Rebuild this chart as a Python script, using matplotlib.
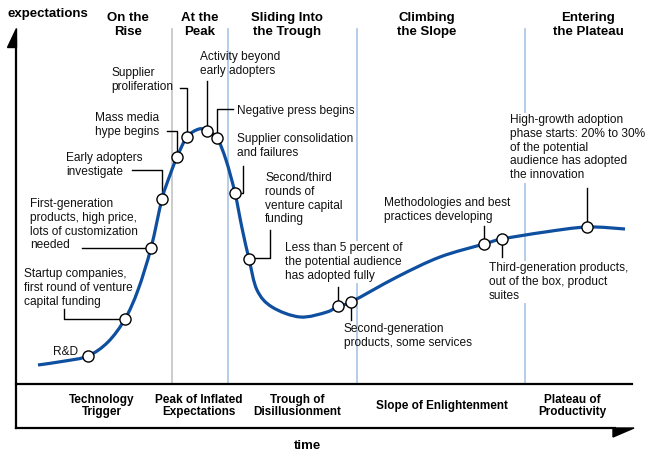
import matplotlib.pyplot as plt
import numpy as np
from matplotlib.path import Path
from matplotlib.patches import PathPatch, Polygon

plt.rcParams['font.family'] = ['Liberation Sans', 'DejaVu Sans']

# courbe du hype cycle (coordonnees, en pixels)
curve_x = [38, 65, 88, 108, 125, 138, 151, 162, 170, 177, 187, 199, 207, 217, 226, 235,
           242, 249, 257, 272, 300, 327, 338, 351, 397, 440, 484, 502, 545, 587, 625]
curve_y = [365, 361, 356, 342, 319, 290, 248, 199, 175, 157, 137, 129, 131, 138, 160, 193,
           228, 259, 290, 307, 317, 312, 306, 302, 277, 257, 244, 239, 232, 227, 229]

# jalons sur la courbe
milestone_x = [88, 125, 151, 162, 177, 187, 207, 217, 235, 249, 338, 351, 484, 502, 587]
milestone_y = [356, 319, 248, 199, 157, 137, 131, 138, 193, 259, 306, 302, 244, 239, 227]

milestone_labels = [
    "R&D",
    "Startup companies,\nfirst round of venture\ncapital funding",
    "First-generation\nproducts, high price,\nlots of customization\nneeded",
    "Early adopters\ninvestigate",
    "Mass media\nhype begins",
    "Supplier\nproliferation",
    "Activity beyond\nearly adopters",
    "Negative press begins",
    "Supplier consolidation\nand failures",
    "Second/third\nrounds of\nventure capital\nfunding",
    "Less than 5 percent of\nthe potential audience\nhas adopted fully",
    "Second-generation\nproducts, some services",
    "Methodologies and best\npractices developing",
    "Third-generation products,\nout of the box, product\nsuites",
    "High-growth adoption\nphase starts: 20% to 30%\nof the potential\naudience has adopted\nthe innovation",
]
# coin haut-gauche du texte
label_pos = [(53, 346), (24, 268), (30, 198), (66, 152), (95, 112), (111, 67), (200, 51),
             (237, 105), (237, 133), (265, 172), (285, 242), (344, 323), (384, 197),
             (489, 262), (510, 114)]
# traits de rappel (coudes)
leaders = [
    None,
    [(64, 309), (64, 319), (125, 319)],
    [(82, 248), (151, 248)],
    [(132, 170), (162, 170), (162, 199)],
    [(167, 131), (177, 131), (177, 157)],
    [(180, 88), (187, 88), (187, 137)],
    [(207, 81), (207, 131)],
    [(233, 109), (217, 109), (217, 138)],
    [(243, 166), (243, 193), (235, 193)],
    [(270, 230), (270, 258), (249, 258)],
    [(338, 287), (338, 306)],
    [(351, 302), (351, 320)],
    [(484, 226), (484, 244)],
    [(502, 239), (502, 257)],
    [(587, 188), (587, 227)],
]
boxed = {10, 13, 14}

phase_titles = ["On the\nRise", "At the\nPeak", "Sliding Into\nthe Trough",
                "Climbing\nthe Slope", "Entering\nthe Plateau"]
phase_title_x = [128, 200, 287, 427, 588]
stage_names = ["Technology\nTrigger", "Peak of Inflated\nExpectations", "Trough of\nDisillusionment",
               "Slope of Enlightenment", "Plateau of\nProductivity"]
stage_x = [102, 199, 297, 442, 572]
separators_x = [172, 228, 357, 525]
separator_colors = ['#c4c4c4', '#a9c5e6', '#a9c5e6', '#a9c5e6']

fig = plt.figure(figsize=(6.58, 4.61), dpi=100)
ax = fig.add_axes([0, 0, 1, 1])
ax.set_xlim(0, 658)
ax.set_ylim(461, 0)
ax.axis('off')

# lignes de separation des phases
for x, c in zip(separators_x, separator_colors):
    ax.plot([x, x], [29, 384], color=c, lw=1.2, zorder=1)

# axes et cadre du bas
ax.plot([16, 16], [40, 428], color='black', lw=1.6, zorder=2)
ax.plot([16, 632], [384, 384], color='black', lw=1.6, zorder=2)
ax.plot([16, 615], [428, 428], color='black', lw=1.6, zorder=2)
ax.add_patch(Polygon([(16, 28), (16, 47), (7, 47)], closed=True, color='black', zorder=2))
ax.add_patch(Polygon([(613, 428), (634, 428), (613, 437)], closed=True, color='black', zorder=2))

# courbe lissee (Catmull-Rom -> Bezier)
pts = np.column_stack([curve_x, curve_y]).astype(float)
ext = np.vstack([pts[0], pts, pts[-1]])
verts = [tuple(pts[0])]
codes = [Path.MOVETO]
for i in range(1, len(ext) - 2):
    p0, p1, p2, p3 = ext[i - 1], ext[i], ext[i + 1], ext[i + 2]
    c1 = p1 + (p2 - p0) / 6
    c2 = p2 - (p3 - p1) / 6
    verts += [tuple(c1), tuple(c2), tuple(p2)]
    codes += [Path.CURVE4] * 3
ax.add_patch(PathPatch(Path(verts, codes), facecolor='none', edgecolor='#0f4f9f',
                       lw=2.3, capstyle='butt', zorder=4))

# etiquettes et traits
for i, (label, (tx, ty)) in enumerate(zip(milestone_labels, label_pos)):
    kw = {}
    if i in boxed:
        kw['bbox'] = dict(facecolor='white', edgecolor='none', pad=1)
    ax.text(tx, ty, label, fontsize=8.6, ha='left', va='top', linespacing=1.2,
            color='#111111', zorder=3, **kw)
    if leaders[i]:
        lx, ly = zip(*leaders[i])
        ax.plot(lx, ly, color='black', lw=1.0, zorder=3)

ax.plot(milestone_x, milestone_y, 'o', ms=8, mfc='white', mec='black', mew=1.0,
        ls='none', zorder=5)

for t, x in zip(phase_titles, phase_title_x):
    ax.text(x, 25, t, fontsize=9.5, fontweight='bold', ha='center', va='center',
            linespacing=1.15)
for t, x in zip(stage_names, stage_x):
    ax.text(x, 406, t, fontsize=8.5, fontweight='bold', ha='center', va='center',
            linespacing=1.05)

ax.text(8, 14, "expectations", fontsize=9.5, fontweight='bold', ha='left', va='center')
ax.text(307, 446, "time", fontsize=9.5, fontweight='bold', ha='center', va='center')

fig.savefig('out.png', dpi=100)
